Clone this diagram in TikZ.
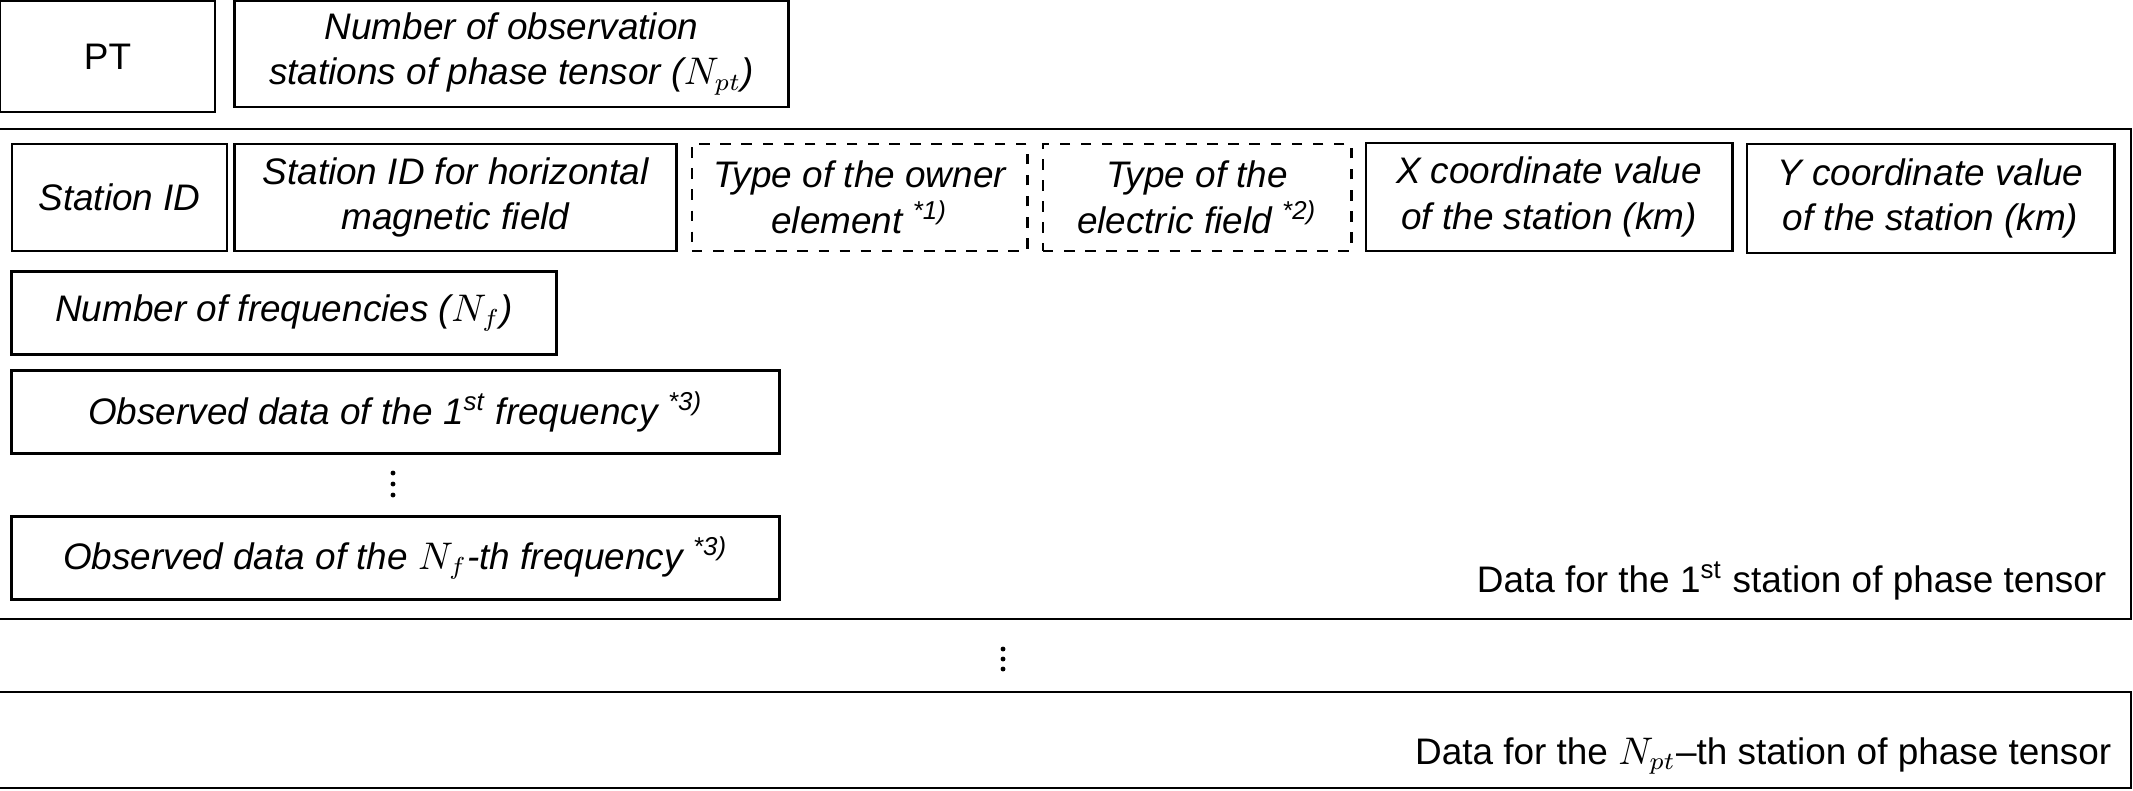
\documentclass[tikz,border=0pt]{standalone}
\usepackage{fontspec}
\setmainfont{Liberation Sans}
\newcommand{\cellfont}{\fontsize{10.5}{13}\selectfont}
\begin{document}
\begin{tikzpicture}[x=0.01cm, y=-0.01cm,
		cell/.style={draw, line width=0.8pt, align=center, inner sep=0pt, font=\cellfont},
		item/.style={cell, font=\cellfont\itshape},
		optitem/.style={item, dashed},
		note/.style={anchor=east, inner sep=0pt, font=\cellfont}]
				\useasboundingbox (0,0) rectangle (2133,790);
				% header
				\node [cell, minimum width=2.15cm, minimum height=1.11cm] (pt) at (107.5,56.5) {PT};
				\node [item, minimum width=5.53cm, minimum height=1.06cm] (nobs) at (511.5,54) {Number of observation\\stations of phase tensor ($N_{pt}$)};
				% data for the first station
				\draw [line width=0.8pt] (-5,129) rectangle (2131,619);
				\node [item, minimum width=2.15cm, minimum height=1.07cm] (sid) at (119.5,197.5) {Station ID};
				\node [item, minimum width=4.41cm, minimum height=1.07cm] (sidh) at (455.5,197.5) {Station ID for horizontal\\magnetic field};
				\node [optitem, minimum width=3.35cm, minimum height=1.07cm] (owner) at (859.5,197.5) {Type of the owner\\element \textsuperscript{*1)}};
				\node [optitem, minimum width=3.08cm, minimum height=1.07cm] (efield) at (1197,197.5) {Type of the\\electric field \textsuperscript{*2)}};
				\node [item, minimum width=3.66cm, minimum height=1.08cm] (xcoord) at (1549,197) {X coordinate value\\of the station (km)};
				\node [item, minimum width=3.67cm, minimum height=1.09cm] (ycoord) at (1930.5,198.5) {Y coordinate value\\of the station (km)};
				\node [item, minimum width=5.44cm, minimum height=0.83cm] (nfreq) at (284,313) {Number of frequencies ($N_f$)};
				\node [item, minimum width=7.67cm, minimum height=0.83cm] (obsfirst) at (395.5,412) {Observed data of the 1\textsuperscript{st} frequency \textsuperscript{*3)}};
				\foreach \y in {473,484,495}
					\fill (393,\y) circle[radius=0.7pt];
				\node [item, minimum width=7.67cm, minimum height=0.83cm] (obslast) at (395.5,558) {Observed data of the $N_f$-th frequency \textsuperscript{*3)}};
				\node [note] (firstlabel) at (2107,581) {Data for the 1\textsuperscript{st} station of phase tensor};
				% further stations
				\foreach \y in {649,659,669}
					\fill (1003,\y) circle[radius=0.7pt];
				\draw [line width=0.8pt] (-5,692) rectangle (2131,788);
				\node [note] (lastlabel) at (2112,756) {Data for the $N_{pt}$--th station of phase tensor};
			\end{tikzpicture}
\end{document}
